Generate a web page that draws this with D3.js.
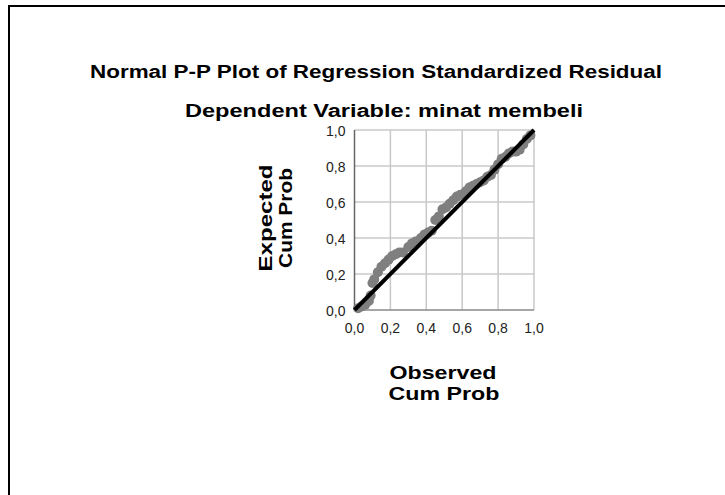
<!DOCTYPE html>
<html>
<head>
<meta charset="utf-8">
<script src="https://cdn.jsdelivr.net/npm/d3@7"></script>
<style>
  body { margin: 0; background: #fff; }
  svg { display: block; font-family: "Liberation Sans", Arial, sans-serif; }
</style>
</head>
<body>
<svg width="725" height="495"></svg>
<script>
const titleText = "Normal P-P Plot of Regression Standardized Residual";
const subtitleText = "Dependent Variable: minat membeli";
const xLabelLines = ["Observed", "Cum Prob"];
const yLabelLines = ["Expected", "Cum Prob"];
const tickValues = [0, 0.2, 0.4, 0.6, 0.8, 1.0];

// observed cum prob (x) vs expected cum prob (y)
const observed = [0.02, 0.04, 0.06, 0.08, 0.09, 0.10, 0.11, 0.13, 0.15, 0.17,
                  0.19, 0.21, 0.23, 0.25, 0.27, 0.30, 0.32, 0.34, 0.37, 0.39,
                  0.41, 0.43, 0.45, 0.47, 0.49, 0.51, 0.53, 0.55, 0.57, 0.59,
                  0.62, 0.64, 0.66, 0.68, 0.70, 0.72, 0.74, 0.76, 0.78, 0.80,
                  0.82, 0.84, 0.86, 0.88, 0.90, 0.92, 0.94, 0.96, 0.98];
const expected = [0.01, 0.02, 0.03, 0.05, 0.08, 0.15, 0.17, 0.21, 0.24, 0.26,
                  0.28, 0.30, 0.31, 0.32, 0.32, 0.35, 0.37, 0.38, 0.40, 0.42,
                  0.43, 0.44, 0.50, 0.52, 0.56, 0.57, 0.59, 0.61, 0.63, 0.64,
                  0.66, 0.68, 0.69, 0.70, 0.71, 0.72, 0.74, 0.75, 0.78, 0.81,
                  0.84, 0.85, 0.87, 0.88, 0.88, 0.89, 0.92, 0.95, 0.97];

const svg = d3.select("svg");

// outer frame (top and left edges only, as in the screenshot)
svg.append("line").attr("x1", 9).attr("x2", 725).attr("y1", 6).attr("y2", 6)
  .attr("stroke", "#000").attr("stroke-width", 2);
svg.append("line").attr("x1", 9).attr("x2", 9).attr("y1", 5).attr("y2", 495)
  .attr("stroke", "#000").attr("stroke-width", 2);

// stretched bold label helper
const label = (sel, txt, len) => sel.append("text")
  .attr("text-anchor", "middle").attr("font-size", 18).attr("font-weight", "bold")
  .attr("textLength", len).attr("lengthAdjust", "spacingAndGlyphs")
  .text(txt);

label(svg, titleText, 572).attr("x", 376).attr("y", 78);
label(svg, subtitleText, 398).attr("x", 384).attr("y", 117);

const x = d3.scaleLinear().domain([0, 1]).range([354.5, 534]);
const y = d3.scaleLinear().domain([0, 1]).range([310, 130]);

const plot = svg.append("g");

// gridlines
plot.selectAll(".vg").data(tickValues.slice(1)).enter().append("line")
  .attr("x1", d => x(d)).attr("x2", d => x(d))
  .attr("y1", y(0)).attr("y2", y(1))
  .attr("stroke", "#c8c8c8").attr("stroke-width", 1.5);
plot.selectAll(".hg").data(tickValues.slice(1)).enter().append("line")
  .attr("x1", x(0)).attr("x2", x(1))
  .attr("y1", d => y(d)).attr("y2", d => y(d))
  .attr("stroke", "#c8c8c8").attr("stroke-width", 1.5);

// axes lines
plot.append("line").attr("x1", x(0)).attr("x2", x(0)).attr("y1", y(0)).attr("y2", y(1))
  .attr("stroke", "#666").attr("stroke-width", 1.5);
plot.append("line").attr("x1", x(0)).attr("x2", x(1)).attr("y1", y(0)).attr("y2", y(0))
  .attr("stroke", "#888").attr("stroke-width", 1.5);

const fmt = d => d3.format(".1f")(d).replace(".", ",");

plot.selectAll(".yt").data(tickValues).enter().append("text")
  .attr("x", x(0) - 9).attr("y", d => y(d) + 6)
  .attr("text-anchor", "end").attr("font-size", 14).attr("fill", "#222")
  .text(fmt);
plot.selectAll(".xt").data(tickValues).enter().append("text")
  .attr("x", d => x(d)).attr("y", 333)
  .attr("text-anchor", "middle").attr("font-size", 14).attr("fill", "#222")
  .text(fmt);

// points
plot.selectAll(".pt").data(observed.map((o, i) => [o, expected[i]])).enter()
  .append("circle")
  .attr("cx", d => x(d[0])).attr("cy", d => y(d[1])).attr("r", 5)
  .attr("fill", "#7f7f7f");

// reference line
plot.append("line").attr("x1", x(0)).attr("y1", y(0)).attr("x2", x(1)).attr("y2", y(1))
  .attr("stroke", "#000").attr("stroke-width", 4);

// axis titles
const yg = svg.append("g").attr("transform", "translate(276,218) rotate(-90)");
label(yg, yLabelLines[0], 107).attr("x", 0).attr("y", -4);
label(yg, yLabelLines[1], 100).attr("x", 0).attr("y", 16);

label(svg, xLabelLines[0], 107).attr("x", 443).attr("y", 379);
label(svg, xLabelLines[1], 111).attr("x", 444).attr("y", 400);
</script>
</body>
</html>
